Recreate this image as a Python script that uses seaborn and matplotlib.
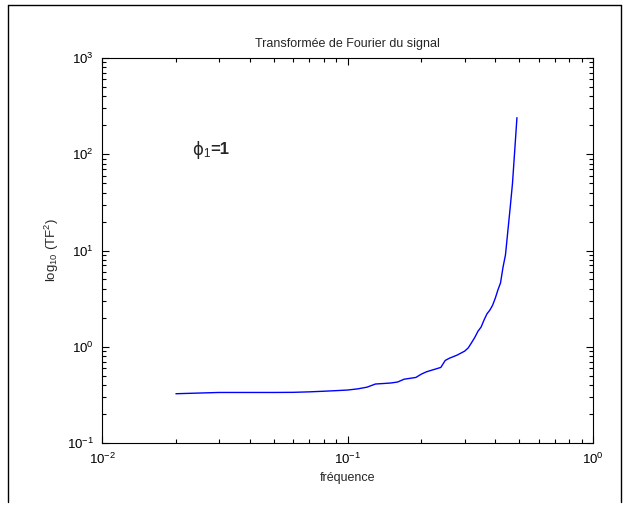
import numpy as np
import pandas as pd
import matplotlib
matplotlib.use("Agg")
import matplotlib.pyplot as plt
from matplotlib.lines import Line2D
from matplotlib.ticker import LogLocator
import seaborn as sns

# values
freq = [0.02, 0.03, 0.04, 0.05, 0.06, 0.07, 0.08, 0.09, 0.10, 0.11,
        0.12, 0.13, 0.14, 0.15, 0.16, 0.17, 0.18, 0.19, 0.20, 0.21,
        0.22, 0.23, 0.24, 0.25, 0.26, 0.27, 0.28, 0.29, 0.30, 0.31,
        0.32, 0.33, 0.34, 0.35, 0.36, 0.37, 0.38, 0.39, 0.40, 0.41,
        0.42, 0.43, 0.44, 0.45, 0.46, 0.47, 0.48, 0.49]
tf2 = [0.325, 0.335, 0.335, 0.335, 0.336, 0.34, 0.345, 0.35, 0.355, 0.365,
       0.38, 0.41, 0.415, 0.42, 0.43, 0.46, 0.47, 0.48, 0.52, 0.55,
       0.57, 0.59, 0.61, 0.72, 0.76, 0.79, 0.82, 0.86, 0.90, 0.97,
       1.1, 1.25, 1.45, 1.6, 1.9, 2.2, 2.4, 2.7, 3.2, 3.9,
       4.6, 6.7, 9.0, 16.0, 28.0, 50.0, 110.0, 240.0]

title = "Transformée de Fourier du signal"
xlab = "fréquence"
ylab = r"log$_{10}$ (TF$^2$)"

df = pd.DataFrame({"f": freq, "tf2": tf2})

sns.set_style("ticks")
plt.rcParams["font.family"] = ["Liberation Sans", "DejaVu Sans"]
plt.rcParams["mathtext.fontset"] = "custom"
plt.rcParams["mathtext.rm"] = "Liberation Sans"
plt.rcParams["mathtext.it"] = "Liberation Sans"
plt.rcParams["mathtext.bf"] = "Liberation Sans:bold"
plt.rcParams["axes.unicode_minus"] = False

fig = plt.figure(figsize=(6.3, 5.11), dpi=100)
ax = fig.add_axes([102 / 630, 1 - 443 / 511, 491 / 630, 385 / 511])

sns.lineplot(data=df, x="f", y="tf2", ax=ax, color="#0000ff", linewidth=1.0)
ax.set_xscale("log")
ax.set_yscale("log")
ax.set_xlim(1e-2, 1)
ax.set_ylim(1e-1, 1e3)
ax.xaxis.set_major_locator(LogLocator(base=10, numticks=10))
ax.yaxis.set_major_locator(LogLocator(base=10, numticks=10))
ax.xaxis.set_minor_locator(LogLocator(base=10, subs=np.arange(2, 10), numticks=20))
ax.yaxis.set_minor_locator(LogLocator(base=10, subs=np.arange(2, 10), numticks=20))

ax.tick_params(which="both", direction="in", top=True, right=True,
               labelsize=9.5, colors="black", width=0.8)
ax.tick_params(which="major", length=5, pad=6)
ax.tick_params(which="minor", length=3)
for s in ax.spines.values():
    s.set_linewidth(0.8)
    s.set_color("black")

ax.set_title(title, fontsize=9, pad=8)
ax.set_xlabel(xlab, fontsize=9, labelpad=4)
ax.set_ylabel(ylab, fontsize=9.5, labelpad=4)

# phi_1 in normal weight, "=1" in bold right after it
phi = ax.text(0.0232, 112, "ϕ$_1$", fontsize=12, family=["DejaVu Sans"],
              ha="left", va="center")
ax.annotate("=1", xy=(1, 0.52), xycoords=phi, fontsize=12, fontweight="bold",
            ha="left", va="center")

# outer frame of the window
for xs, ys in [([8 / 630, 8 / 630], [1 - 502 / 511, 1 - 5 / 511]),
               ([8 / 630, 621 / 630], [1 - 5 / 511, 1 - 5 / 511]),
               ([621 / 630, 621 / 630], [1 - 5 / 511, 1 - 502 / 511])]:
    fig.add_artist(Line2D(xs, ys, color="black", linewidth=1.0))

fig.savefig("out.png", dpi=100)
